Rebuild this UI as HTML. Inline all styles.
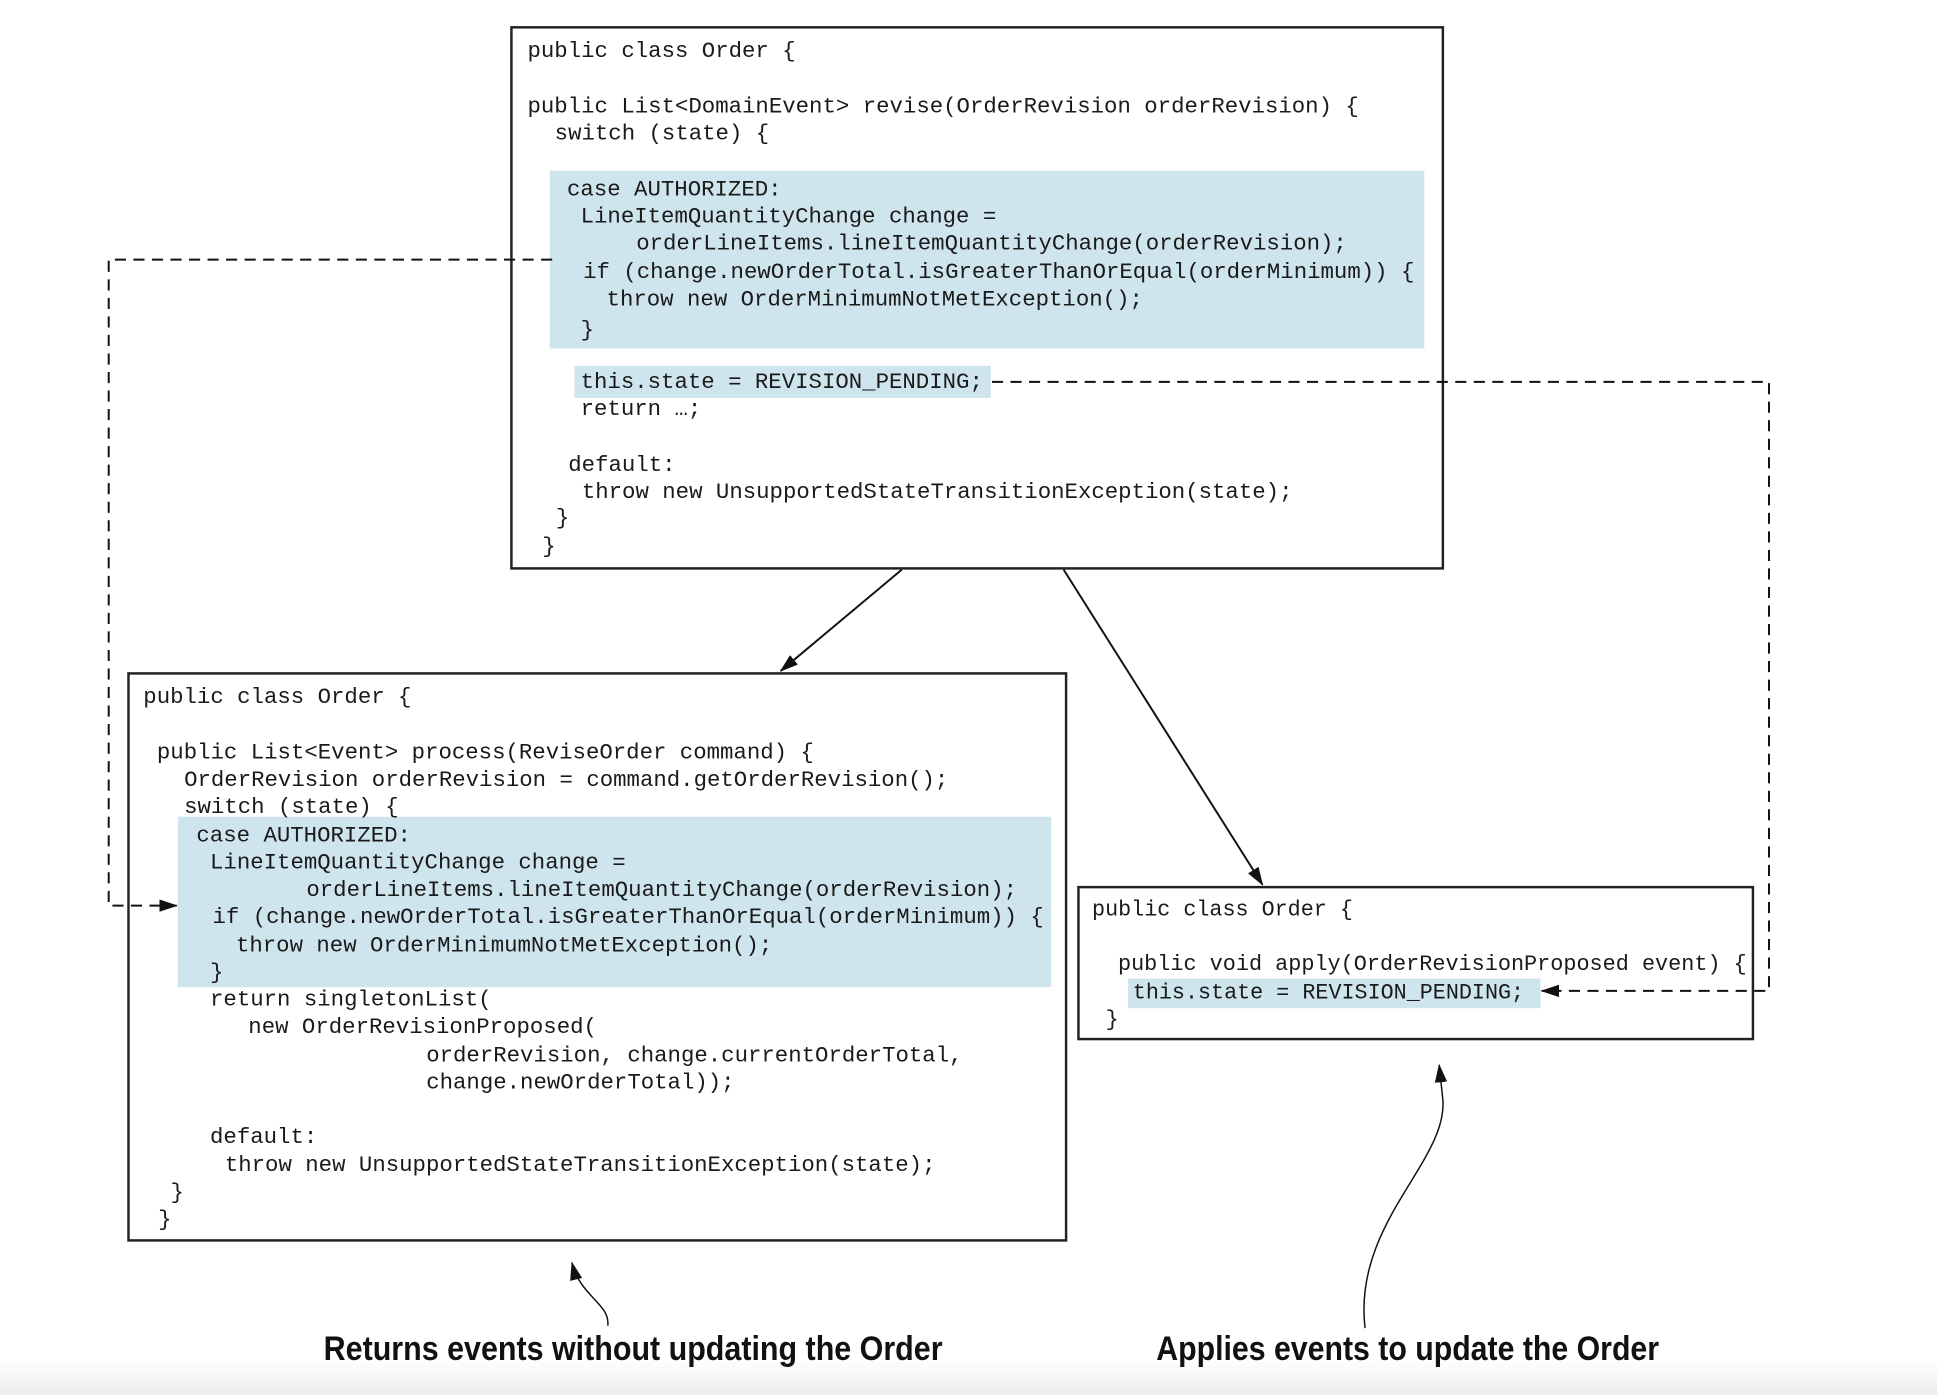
<!DOCTYPE html>
<html><head><meta charset="utf-8"><style>
html,body{margin:0;padding:0;background:#fff;}
svg{display:block;}
.c{font-family:"Liberation Mono","DejaVu Sans Mono",monospace;font-size:18.1px;fill:#1a1a1a;white-space:pre;}
.r{font-size:17.6px;}
.l{font-family:"Liberation Sans Narrow","Liberation Sans",sans-serif;font-weight:bold;font-size:28px;fill:#111;}
</style></head><body>
<svg width="1937" height="1395" viewBox="0 0 1568 1129" xmlns="http://www.w3.org/2000/svg">
<defs>
<linearGradient id="g" x1="0" y1="0" x2="0" y2="1"><stop offset="0" stop-color="#fff"/><stop offset="1" stop-color="#ececec"/></linearGradient>
<marker id="a" markerWidth="15" markerHeight="10" refX="14" refY="5" orient="auto" markerUnits="userSpaceOnUse"><path d="M0,0 L15,5 L0,10 Z" fill="#111"/></marker>
</defs>
<rect x="0" y="1100" width="1568" height="29" fill="url(#g)"/>
<rect x="445" y="138" width="708" height="144" fill="#cfe5ee"/>
<rect x="465" y="296" width="337" height="26" fill="#cfe5ee"/>
<rect x="144" y="661" width="707" height="138" fill="#cfe5ee"/>
<rect x="913" y="792" width="334" height="24" fill="#cfe5ee"/>
<rect x="414" y="22" width="754" height="438" fill="none" stroke="#222" stroke-width="2"/>
<rect x="104" y="545" width="759" height="459" fill="none" stroke="#222" stroke-width="2"/>
<rect x="873" y="718" width="546" height="123" fill="none" stroke="#222" stroke-width="2"/>
<g class="c">
<text x="427" y="46">public class Order {</text>
<text x="427" y="91">public List&lt;DomainEvent&gt; revise(OrderRevision orderRevision) {</text>
<text x="449" y="113">switch (state) {</text>
<text x="459" y="158">case AUTHORIZED:</text>
<text x="470" y="180">LineItemQuantityChange change =</text>
<text x="515" y="202">orderLineItems.lineItemQuantityChange(orderRevision);</text>
<text x="472" y="225">if (change.newOrderTotal.isGreaterThanOrEqual(orderMinimum)) {</text>
<text x="491" y="247">throw new OrderMinimumNotMetException();</text>
<text x="470" y="272">}</text>
<text x="470" y="314">this.state = REVISION_PENDING;</text>
<text x="470" y="336">return …;</text>
<text x="460" y="381">default:</text>
<text x="471" y="403">throw new UnsupportedStateTransitionException(state);</text>
<text x="450" y="424">}</text>
<text x="439" y="447">}</text>
<text x="116" y="569">public class Order {</text>
<text x="127" y="614">public List&lt;Event&gt; process(ReviseOrder command) {</text>
<text x="149" y="636">OrderRevision orderRevision = command.getOrderRevision();</text>
<text x="149" y="658">switch (state) {</text>
<text x="159" y="681">case AUTHORIZED:</text>
<text x="170" y="703">LineItemQuantityChange change =</text>
<text x="248" y="725">orderLineItems.lineItemQuantityChange(orderRevision);</text>
<text x="172" y="747">if (change.newOrderTotal.isGreaterThanOrEqual(orderMinimum)) {</text>
<text x="191" y="770">throw new OrderMinimumNotMetException();</text>
<text x="170" y="792">}</text>
<text x="170" y="814">return singletonList(</text>
<text x="201" y="836">new OrderRevisionProposed(</text>
<text x="345" y="859">orderRevision, change.currentOrderTotal,</text>
<text x="345" y="881">change.newOrderTotal));</text>
<text x="170" y="925">default:</text>
<text x="182" y="948">throw new UnsupportedStateTransitionException(state);</text>
<text x="138" y="970">}</text>
<text x="128" y="992">}</text>
<text class="c r" x="884" y="741">public class Order {</text>
<text class="c r" x="905" y="785" textLength="509" lengthAdjust="spacingAndGlyphs">public void apply(OrderRevisionProposed event) {</text>
<text class="c r" x="917" y="808">this.state = REVISION_PENDING;</text>
<text class="c r" x="895" y="830">}</text>
</g>
<line x1="730" y1="461" x2="632" y2="543" stroke="#111" stroke-width="1.6" marker-end="url(#a)"/>
<line x1="861" y1="461" x2="1022" y2="716" stroke="#111" stroke-width="1.6" marker-end="url(#a)"/>
<polyline points="447,210 88,210 88,733 143,733" fill="none" stroke="#111" stroke-width="1.6" stroke-dasharray="9,6" marker-end="url(#a)"/>
<polyline points="803,309 1432,309 1432,802 1248,802" fill="none" stroke="#111" stroke-width="1.6" stroke-dasharray="9,6" marker-end="url(#a)"/>
<path d="M492,1073 C494,1055 470,1050 463,1022" fill="none" stroke="#111" stroke-width="1.2" marker-end="url(#a)"/>
<path d="M1105,1075 C1095,990 1172,940 1168,890 L1165,862" fill="none" stroke="#111" stroke-width="1.2" marker-end="url(#a)"/>
<text class="l" x="262" y="1101" textLength="501" lengthAdjust="spacingAndGlyphs">Returns events without updating the Order</text>
<text class="l" x="936" y="1101" textLength="407" lengthAdjust="spacingAndGlyphs">Applies events to update the Order</text>
</svg>
</body></html>
